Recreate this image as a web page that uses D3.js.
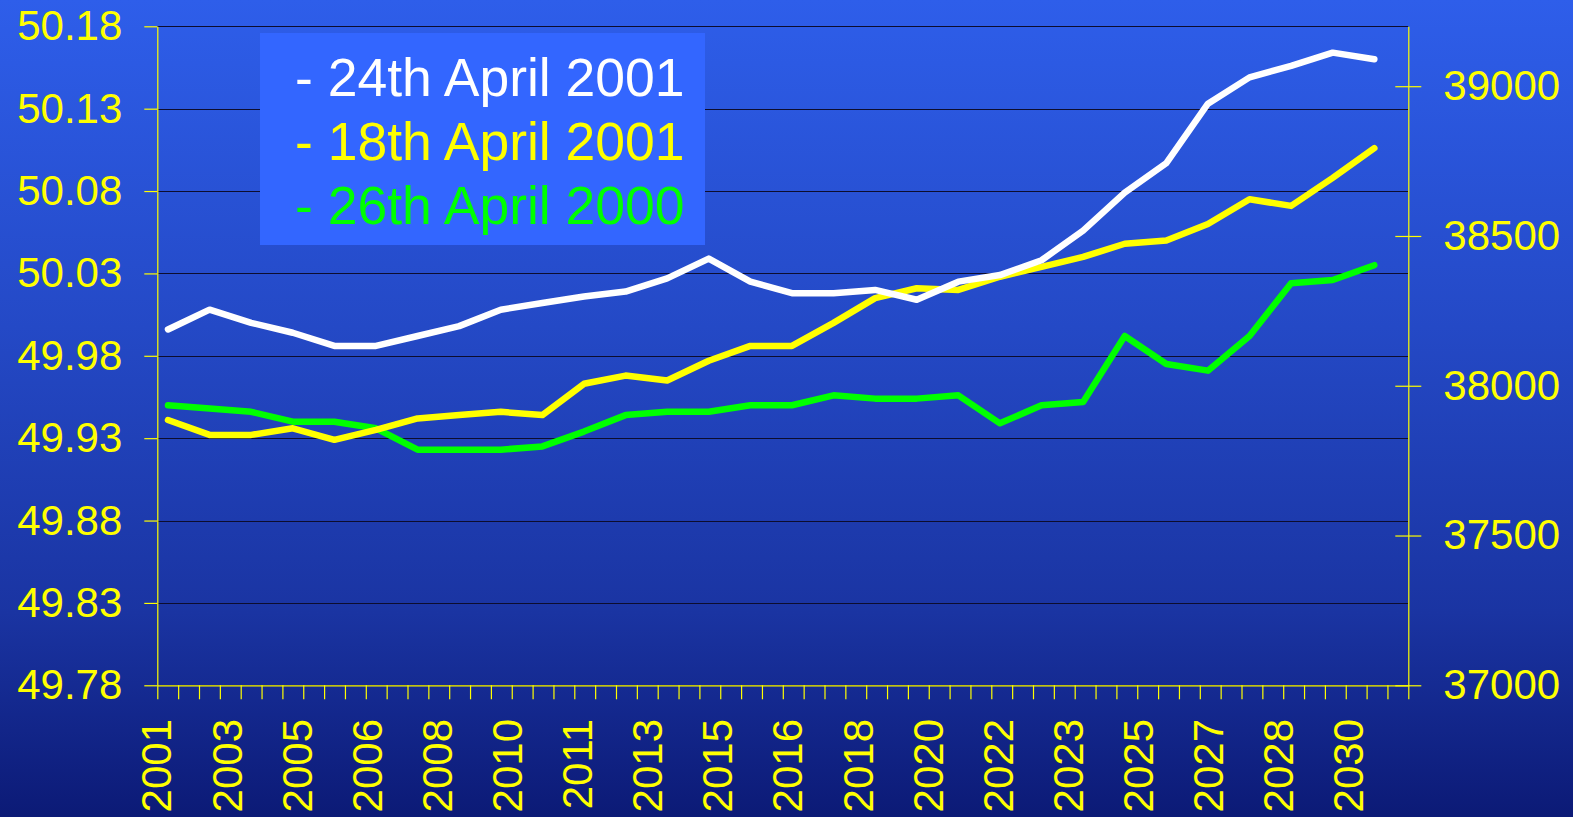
<!DOCTYPE html>
<html>
<head>
<meta charset="utf-8">
<script src="https://cdn.jsdelivr.net/npm/d3@7"></script>
<style>
  html, body { margin: 0; padding: 0; overflow: hidden; }
  svg { display: block; }
  text { font-family: 'Liberation Sans', Arial, sans-serif; }
</style>
</head>
<body>
<script>
// one point per year
const years = d3.range(2001, 2031);

const april2001_24 = [
  49.996, 50.008, 50.000, 49.994, 49.986, 49.986, 49.992, 49.998, 50.008, 50.012,
  50.016, 50.019, 50.027, 50.039, 50.025, 50.018, 50.018, 50.020, 50.014, 50.025,
  50.029, 50.038, 50.056, 50.079, 50.097, 50.133, 50.149, 50.156, 50.164, 50.160
];
const april2001_18 = [
  49.941, 49.932, 49.932, 49.936, 49.929, 49.935, 49.942, 49.944, 49.946, 49.944,
  49.963, 49.968, 49.965, 49.977, 49.986, 49.986, 50.000, 50.015, 50.021, 50.020,
  50.028, 50.034, 50.040, 50.048, 50.050, 50.060, 50.075, 50.071, 50.088, 50.106
];
const april2000_26 = [
  49.950, 49.948, 49.946, 49.940, 49.940, 49.936, 49.923, 49.923, 49.923, 49.925,
  49.934, 49.944, 49.946, 49.946, 49.950, 49.950, 49.956, 49.954, 49.954, 49.956,
  49.939, 49.950, 49.952, 49.992, 49.975, 49.971, 49.992, 50.024, 50.026, 50.035
];

const seriesNames = ['- 24th April 2001', '- 18th April 2001', '- 26th April 2000'];
const seriesColors = ['#ffffff', '#ffff00', '#00ff00'];

const leftTicks = [49.78, 49.83, 49.88, 49.93, 49.98, 50.03, 50.08, 50.13, 50.18];
const rightTicks = [37000, 37500, 38000, 38500, 39000];
const xLabels = ['2001', '2003', '2005', '2006', '2008', '2010', '2011', '2013', '2015',
  '2016', '2018', '2020', '2022', '2023', '2025', '2027', '2028', '2030'];

const width = 1573;
const height = 817;
const plot = { left: 157.3, right: 1408.3, top: 26.3, bottom: 685.3 };

const svg = d3.select('body')
  .append('svg')
  .attr('width', width)
  .attr('height', height);

const grad = svg.append('defs')
  .append('linearGradient')
  .attr('id', 'bg')
  .attr('x1', 0).attr('y1', 0)
  .attr('x2', 0).attr('y2', 1);
grad.append('stop').attr('offset', '0%').attr('stop-color', '#2e5eea');
grad.append('stop').attr('offset', '40%').attr('stop-color', '#2449c6');
grad.append('stop').attr('offset', '75%').attr('stop-color', '#1a34a2');
grad.append('stop').attr('offset', '100%').attr('stop-color', '#0c1a76');

svg.append('rect')
  .attr('width', width)
  .attr('height', height)
  .attr('fill', 'url(#bg)');

const x = d3.scaleLinear()
  .domain([2000.743, 2030.817])
  .range([plot.left, plot.right]);

const y = d3.scaleLinear()
  .domain([49.78, 50.18])
  .range([plot.bottom, plot.top]);

const y2 = d3.scaleLinear()
  .domain([37000, 39200])
  .range([plot.bottom, plot.top]);

// minor ticks along the bottom, labels on their own point scale
const xTick = d3.scaleLinear().domain([0, 60]).range([plot.left, plot.right]);
const xLabel = d3.scalePoint()
  .domain(xLabels)
  .range([x(2000.72), x(2029.37)]);

// grid
svg.append('g')
  .selectAll('line')
  .data(leftTicks)
  .enter()
  .append('line')
  .attr('x1', plot.left)
  .attr('x2', plot.right)
  .attr('y1', d => Math.round(y(d)) + 0.5)
  .attr('y2', d => Math.round(y(d)) + 0.5)
  .attr('stroke', '#0d0d2e')
  .attr('stroke-width', 1.2);

// legend
const legend = svg.append('g');
legend.append('rect')
  .attr('x', 260)
  .attr('y', 33)
  .attr('width', 445)
  .attr('height', 212)
  .attr('fill', '#3366ff');

legend.selectAll('text')
  .data(seriesNames)
  .enter()
  .append('text')
  .attr('x', 295)
  .attr('y', (d, i) => 96 + i * 64)
  .attr('font-size', 53.5)
  .attr('fill', (d, i) => seriesColors[i])
  .text(d => d);

// axes
const axisColor = '#ffff00';

const leftAxis = svg.append('g')
  .attr('transform', `translate(${ plot.left },0)`)
  .call(d3.axisLeft(y)
    .tickValues(leftTicks)
    .tickFormat(d3.format('.2f'))
    .tickSize(13)
    .tickSizeOuter(0)
    .tickPadding(22));

const rightAxis = svg.append('g')
  .attr('transform', `translate(${ plot.right },0)`)
  .call(d3.axisRight(y2)
    .tickValues(rightTicks)
    .tickFormat(d3.format('d'))
    .tickSize(13)
    .tickSizeOuter(0)
    .tickPadding(22));
rightAxis.selectAll('.tick line').attr('x1', -13);

const bottomAxis = svg.append('g')
  .attr('transform', `translate(0,${ plot.bottom })`)
  .call(d3.axisBottom(xTick)
    .tickValues(d3.range(61))
    .tickFormat('')
    .tickSize(14)
    .tickSizeOuter(0));

[leftAxis, rightAxis, bottomAxis].forEach(g => {
  g.select('.domain').attr('stroke', axisColor).attr('stroke-width', 1.2);
  g.selectAll('.tick line').attr('stroke', axisColor).attr('stroke-width', 1.2);
  g.selectAll('.tick text')
    .attr('fill', axisColor)
    .attr('font-size', 42)
    .attr('font-family', "'Liberation Sans', Arial, sans-serif");
});

svg.append('g')
  .selectAll('text')
  .data(xLabels)
  .enter()
  .append('text')
  .attr('transform', d => `translate(${ xLabel(d) },719) rotate(-90)`)
  .attr('text-anchor', 'end')
  .attr('dy', '0.36em')
  .attr('font-size', 42)
  .attr('fill', axisColor)
  .text(d => d);

// series
const line = d3.line()
  .x((d, i) => x(years[i]))
  .y(d => y(d));

svg.append('g')
  .selectAll('path')
  .data([april2000_26, april2001_18, april2001_24])
  .enter()
  .append('path')
  .attr('d', line)
  .attr('fill', 'none')
  .attr('stroke', (d, i) => seriesColors[2 - i])
  .attr('stroke-width', 6.5)
  .attr('stroke-linejoin', 'round')
  .attr('stroke-linecap', 'round');
</script>
</body>
</html>
